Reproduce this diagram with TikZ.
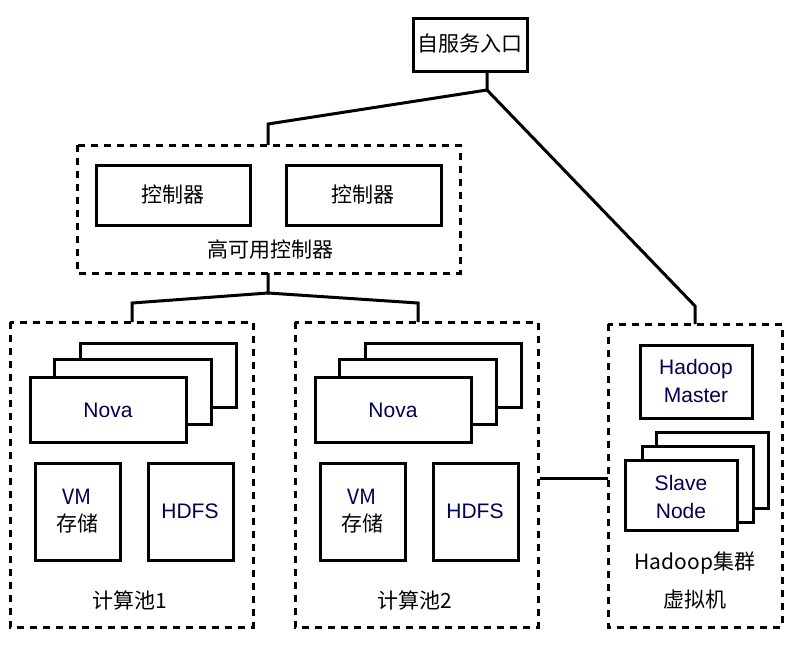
\documentclass[tikz,border=0pt]{standalone}
\usepackage{fontspec}
\setmainfont{Liberation Sans}
\newfontfamily\cjk{Noto Sans CJK SC}
\begin{document}
\begin{tikzpicture}[x=1pt,y=-1pt,
  box/.style={draw,line width=3pt,fill=white},
  dbox/.style={draw,line width=3pt,dash pattern=on 7pt off 6pt},
  ln/.style={line width=3pt},
  lbl/.style={font=\fontsize{21}{24}\selectfont\cjk},
  en/.style={font=\fontsize{21}{24}\selectfont,text=black!70!blue}]
\useasboundingbox (0,0) rectangle (800,646);
% top
\draw[box] (413,18) rectangle (527,71);
\node[lbl] (top) at (470,44) {自服务入口};
\coordinate (j1) at (487,90);
\draw[ln] (487,71) -- (j1) -- (268,124) -- (268,145);
\draw[ln] (j1) -- (695,306) -- (695,324);
% controllers
\draw[dbox] (77,145) rectangle (460,273);
\draw[box] (96,165) rectangle (250,225); \node[lbl] (c1) at (173,195) {控制器};
\draw[box] (286,165) rectangle (441,225); \node[lbl] (c2) at (363,195) {控制器};
\node[lbl] (ha) at (270,250) {高可用控制器};
\coordinate (j2) at (268,293);
\draw[ln] (268,273) -- (j2) -- (132,303) -- (132,322);
\draw[ln] (j2) -- (418,303) -- (418,322);
% pools
\foreach \dx/\n in {0/1,285/2}{
 \begin{scope}[xshift=\dx]
 \draw[dbox] (10,322) rectangle (253,627);
 \draw[box] (80,343) rectangle (236,407);
 \draw[box] (54,359) rectangle (211,424);
 \draw[box] (30,377) rectangle (186,442);
 \node[en] (nova\n) at (108,410) {Nova};
 \draw[box] (35,463) rectangle (120,560);
 \node[align=center,font=\fontsize{21}{27}\selectfont\cjk] (vm\n) at (77,511) {\textcolor{black!70!blue}{VM}\\存储};
 \draw[box] (148,463) rectangle (233,560);
 \node[en] (hdfs\n) at (190,511) {HDFS};
 \node[lbl] (p\n) at (130,600) {计算池\n};
 \end{scope}}
% hadoop
\draw[dbox] (608,324) rectangle (782,627);
\draw[box] (640,345) rectangle (752,418);
\node[en,align=center,font=\fontsize{21}{28}\selectfont] (hm) at (696,381) {Hadoop\\Master};
\draw[box] (656,432) rectangle (768,508);
\draw[box] (642,446) rectangle (753,522);
\draw[box] (625,460) rectangle (737,530);
\node[en,align=center,font=\fontsize{21}{28}\selectfont] (sn) at (681,497) {Slave\\Node};
\node[align=center,font=\fontsize{21}{38}\selectfont\cjk] (hc) at (695,580) {Hadoop集群\\虚拟机};
\draw[ln] (540,478) -- (608,478);
\end{tikzpicture}
\end{document}
